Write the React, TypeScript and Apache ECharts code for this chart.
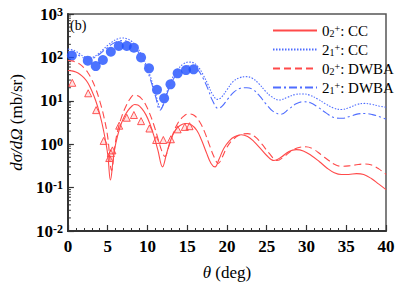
import React, { useEffect, useRef } from "react";
import * as echarts from "echarts";

// ---- data ----
const ccRedTheta = [0, 0.5, 1, 1.5, 2, 2.5, 3, 3.5, 4, 4.5, 5, 5.35, 5.7, 6, 6.5, 7, 7.5, 8, 8.4, 8.8, 9.3, 9.8, 10.3, 10.8, 11.3, 11.9, 12.4, 12.9, 13.5, 14.1, 14.8, 15.5, 16.2, 16.8, 17.4, 18.0, 18.5, 19.0, 19.6, 20.3, 21, 21.8, 22.6, 23.4, 24.2, 25, 25.9, 26.8, 27.8, 28.7, 29.6, 30.6, 31.6, 32.6, 33.5, 34.4, 35.3, 36.3, 37.2, 38.2, 39.1, 40];
const ccRedVal = [50, 49, 46, 41, 34, 26, 17, 10, 5, 2, 0.6, 0.15, 0.45, 1.0, 2.3, 4, 5.8, 7.4, 8.2, 8.0, 6.6, 4.8, 3.0, 1.6, 0.75, 0.3, 0.6, 1.2, 2.1, 2.7, 3.0, 2.8, 2.1, 1.25, 0.65, 0.36, 0.3, 0.45, 0.8, 1.2, 1.5, 1.65, 1.5, 1.15, 0.8, 0.55, 0.42, 0.5, 0.68, 0.75, 0.7, 0.55, 0.4, 0.28, 0.22, 0.2, 0.2, 0.21, 0.2, 0.16, 0.12, 0.09];

const dwRedTheta = [0, 0.5, 1, 1.5, 2, 2.5, 3, 3.5, 4, 4.5, 5, 5.5, 5.9, 6.3, 6.8, 7.3, 7.8, 8.3, 8.8, 9.3, 9.8, 10.3, 10.8, 11.3, 11.8, 12.2, 12.7, 13.2, 13.8, 14.5, 15.2, 15.9, 16.6, 17.2, 17.8, 18.4, 18.9, 19.4, 20, 20.8, 21.7, 22.6, 23.5, 24.4, 25.3, 26.3, 27.2, 28.2, 29.2, 29.9, 30.8, 31.8, 32.8, 33.7, 34.5, 35.5, 36.5, 37.3, 38.2, 39.1, 40];
const dwRedVal = [85, 83, 78, 70, 58, 45, 31, 19, 10, 4.5, 1.5, 0.25, 0.9, 2.2, 4.5, 7.5, 11, 13.5, 13, 11, 8, 5, 2.8, 1.4, 0.7, 0.52, 0.9, 1.7, 3.0, 4.3, 5.0, 4.6, 3.2, 1.9, 0.95, 0.5, 0.36, 0.5, 0.85, 1.3, 1.65, 1.75, 1.5, 1.0, 0.62, 0.42, 0.52, 0.72, 0.85, 0.87, 0.78, 0.58, 0.42, 0.33, 0.31, 0.32, 0.34, 0.35, 0.33, 0.27, 0.2];

const ccBlueTheta = [0, 0.5, 1, 1.5, 2, 2.6, 3.2, 3.8, 4.4, 5, 5.6, 6.2, 6.8, 7.4, 8, 8.6, 9.2, 9.8, 10.4, 11, 11.7, 12.2, 12.7, 13.3, 13.9, 14.5, 15.2, 15.8, 16.4, 17, 17.6, 18.2, 18.8, 19.3, 20, 20.8, 21.6, 22.4, 23.2, 24, 24.8, 25.6, 26.6, 27.6, 28.6, 29.5, 30.4, 31.4, 32.4, 33.4, 34.4, 35.4, 36.4, 37.3, 38.2, 39.1, 40];
const ccBlueVal = [155, 150, 138, 120, 105, 97, 102, 120, 150, 190, 230, 265, 280, 270, 235, 180, 120, 70, 35, 15, 6.7, 11, 22, 38, 55, 70, 78, 75, 60, 40, 24, 14, 10.8, 12, 18, 28, 34, 36, 33, 25, 17, 12.5, 10.4, 12, 14, 14.4, 13.5, 11, 8.5, 6.8, 6.3, 7, 8.3, 8.7, 8.3, 7.6, 7.1];

const dwBlueTheta = [0, 0.5, 1, 1.5, 2, 2.6, 3.2, 3.8, 4.4, 5, 5.6, 6.2, 6.8, 7.4, 8, 8.6, 9.2, 9.8, 10.4, 11, 11.6, 12.1, 12.6, 13.2, 13.8, 14.5, 15.2, 15.8, 16.4, 17, 17.6, 18.2, 18.9, 19.4, 20.1, 20.9, 21.7, 22.5, 23.3, 24.1, 24.9, 25.8, 26.8, 27.8, 28.7, 29.6, 30.5, 31.5, 32.5, 33.5, 34.5, 35.5, 36.5, 37.4, 38.3, 39.2, 40];
const dwBlueVal = [135, 132, 122, 108, 97, 92, 97, 112, 138, 170, 205, 232, 243, 235, 205, 155, 105, 60, 30, 13, 6.1, 9, 17, 30, 44, 57, 64, 62, 50, 33, 19, 10, 6.7, 7.5, 11, 16, 19.5, 20, 18, 13, 8.5, 5.7, 4.9, 6.5, 8.5, 9.5, 9, 7, 5.2, 4.1, 3.95, 4.4, 5, 5.1, 4.8, 4.3, 3.8];

const expBlueTheta = [0.5, 2.5, 3.5, 4.4, 5.4, 6.4, 7.4, 8.3, 9.2, 10.2, 11.2, 12.1, 12.9, 13.8, 14.85, 15.8];
const expBlueVal = [110, 84, 63, 87, 135, 183, 183, 167, 100, 56, 18, 11.4, 24, 43, 51, 53];

const expRedTheta = [0.55, 2.55, 3.55, 4.5, 5.2, 5.4, 5.6, 6.45, 7.4, 8.3, 9.2, 10.25, 11.1, 12.0, 12.95, 13.8, 14.7, 15.3];
const expRedVal = [26, 14.9, 6.1, 1.19, 0.48, 0.62, 0.72, 2.67, 4.07, 4.7, 3.4, 2.3, 1.25, 1.25, 1.3, 2.2, 2.5, 2.6];

const seriesNames = ["0₂⁺: CC", "2₁⁺: CC", "0₂⁺: DWBA", "2₁⁺: DWBA"];
const legendRich = ["0{sub|2}{sup|+}: CC", "2{sub|1}{sup|+}: CC", "0{sub|2}{sup|+}: DWBA", "2{sub|1}{sup|+}: DWBA"];

const yMinorTicks: number[] = [];
for (let e = -2; e < 3; e++) {
  for (let m = 2; m <= 9; m++) yMinorTicks.push(m * Math.pow(10, e));
}

const zip = (a: number[], b: number[]) => a.map((t, i) => [t, b[i]]);

const FONT = "'Liberation Serif', 'Times New Roman', serif";
const RED = "#ff4a4a";
const BLUE = "#4f6dff";

export default function App() {
  const ref = useRef<HTMLDivElement>(null);
  useEffect(() => {
    const chart = echarts.init(ref.current!, undefined, { renderer: "svg" });
    chart.setOption({
      animation: false,
      backgroundColor: "#fff",
      grid: { left: 62, right: 13, top: 14, bottom: 57, show: true, borderColor: "#555", borderWidth: 1.5, backgroundColor: "transparent" },
      legend: {
        orient: "vertical",
        left: 267,
        top: 18,
        itemWidth: 44,
        itemHeight: 14,
        itemGap: 4,
        data: seriesNames,
        itemStyle: { opacity: 0 },
        formatter: (n: string) => legendRich[seriesNames.indexOf(n)],
        textStyle: {
          fontFamily: FONT,
          fontSize: 15,
          color: "#000",
          lineHeight: 15,
          rich: {
            sub: { fontFamily: FONT, fontSize: 10, verticalAlign: "bottom", color: "#000", lineHeight: 15 },
            sup: { fontFamily: FONT, fontSize: 10, verticalAlign: "top", color: "#000", lineHeight: 15 },
          },
        },
      },
      xAxis: {
        type: "value",
        min: 0,
        max: 40,
        interval: 5,
        name: "{i|θ} (deg)",
        nameLocation: "middle",
        nameGap: 33,
        nameTextStyle: { fontFamily: FONT, fontSize: 17, color: "#000", rich: { i: { fontFamily: FONT, fontSize: 17, fontStyle: "italic", color: "#000" } } },
        axisLine: { lineStyle: { color: "#333", width: 2 } },
        axisTick: { inside: true, length: 6, lineStyle: { color: "#333", width: 1.2 } },
        minorTick: { show: true, splitNumber: 5, length: 3, lineStyle: { color: "#333", width: 1 } },
        splitLine: { show: false },
        axisLabel: { fontFamily: FONT, fontSize: 17, fontWeight: "bold", color: "#000", margin: 7 },
      },
      yAxis: {
        type: "log",
        logBase: 10,
        min: 0.01,
        max: 1000,
        name: "{i|dσ/dΩ} (mb/sr)",
        nameLocation: "middle",
        nameRotate: 90,
        nameGap: 36,
        nameTextStyle: { fontFamily: FONT, fontSize: 17, color: "#000", rich: { i: { fontFamily: FONT, fontSize: 17, fontStyle: "italic", color: "#000" } } },
        axisLine: { show: true, lineStyle: { color: "#333", width: 2 } },
        axisTick: { inside: true, length: 6, lineStyle: { color: "#333", width: 1.2 } },
        splitLine: { show: false },
        axisLabel: {
          fontFamily: FONT,
          fontSize: 17,
          fontWeight: "bold",
          color: "#000",
          margin: 5,
          formatter: (v: number) => "10{sup|" + Math.round(Math.log10(v)) + "}",
          rich: { sup: { fontFamily: FONT, fontSize: 12, fontWeight: "bold", verticalAlign: "top", color: "#000", lineHeight: 12 } },
        },
      },
      graphic: [
        { type: "text", x: 70, y: 25, style: { text: "(b)", fontFamily: FONT, fontSize: 14, fill: "#000", verticalAlign: "middle", align: "left" } },
      ],
      series: [
        {
          type: "custom",
          silent: true,
          clip: false,
          data: yMinorTicks.map((v) => [0, v]),
          renderItem: (params: any, api: any) => {
            const p = api.coord([0, api.value(1)]);
            return { type: "line", shape: { x1: p[0], y1: p[1], x2: p[0] + 3, y2: p[1] }, style: { stroke: "#333", lineWidth: 1 } };
          },
        },
        { name: seriesNames[0], type: "line", data: zip(ccRedTheta, ccRedVal), smooth: 0.4, showSymbol: false, symbol: "none", lineStyle: { color: RED, width: 1.1, type: "solid" }, itemStyle: { color: RED } },
        { name: seriesNames[1], type: "line", data: zip(ccBlueTheta, ccBlueVal), smooth: 0.4, showSymbol: false, symbol: "none", lineStyle: { color: BLUE, width: 1.1, type: [1.5, 1.5] }, itemStyle: { color: BLUE } },
        { name: seriesNames[2], type: "line", data: zip(dwRedTheta, dwRedVal), smooth: 0.4, showSymbol: false, symbol: "none", lineStyle: { color: RED, width: 1.1, type: [7, 4] }, itemStyle: { color: RED } },
        { name: seriesNames[3], type: "line", data: zip(dwBlueTheta, dwBlueVal), smooth: 0.4, showSymbol: false, symbol: "none", lineStyle: { color: BLUE, width: 1.1, type: [8, 3, 2, 3] }, itemStyle: { color: BLUE } },
        { name: "exp21", type: "scatter", data: zip(expBlueTheta, expBlueVal), symbol: "circle", symbolSize: 10, itemStyle: { color: "#1f50ff" } },
        { name: "exp02", type: "scatter", data: zip(expRedTheta, expRedVal), symbol: "triangle", symbolSize: 7, itemStyle: { color: "rgba(255,120,120,0.25)", borderColor: "#ff3030", borderWidth: 1 } },
      ],
    });
    return () => chart.dispose();
  }, []);
  return <div ref={ref} style={{ position: "absolute", left: 0, top: 0, width: 399, height: 288 }} />;
}
